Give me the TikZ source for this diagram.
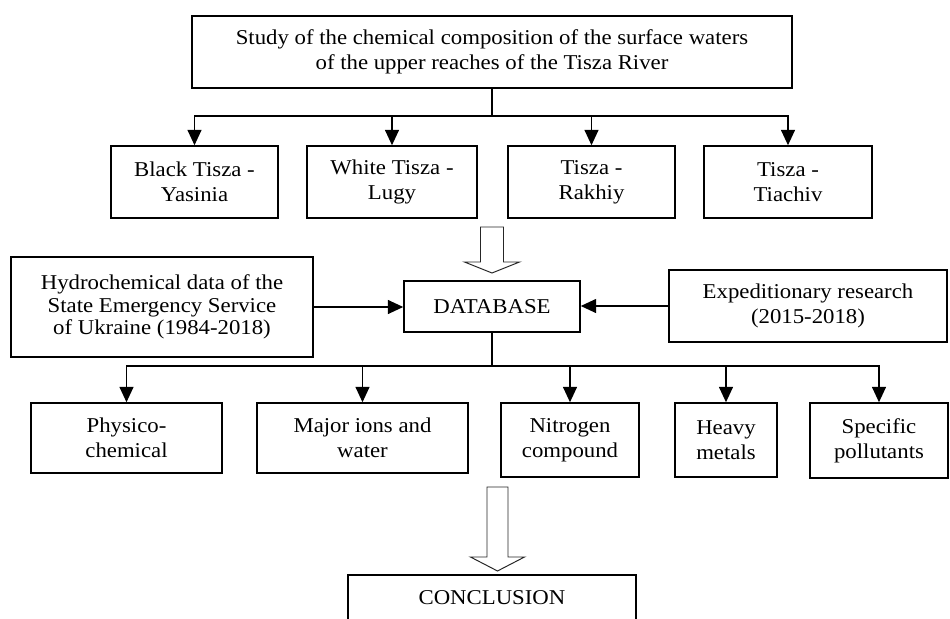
\documentclass[tikz,border=0pt]{standalone}
\usepackage{fontspec}
\setmainfont{Liberation Serif}[FakeStretch=1.08]
\usetikzlibrary{arrows.meta,calc}
\tikzset{blk/.style 2 args={draw, line width=1.1pt, align=center, inner sep=0pt, minimum width=#1*0.025cm, minimum height=#2*0.025cm, font=\fontsize{15}{17.8}\selectfont},
  arr/.style={line width=1pt, -{Triangle[length=11pt,width=10pt]}},
  lnk/.style={line width=1pt},
  hollow/.style={draw=black!85, line width=0.7pt, fill=white, line join=miter}}
\newcommand{\hollowarrow}[6]{\draw[hollow] (#1-#5,#2) -- (#1+#5,#2) -- (#1+#5,#3) -- (#1+#6,#3) -- (#1,#4) -- (#1-#6,#3) -- (#1-#5,#3) -- cycle;}

\begin{document}
\begin{tikzpicture}[x=0.025cm, y=-0.025cm]
  \clip (0,0) rectangle (950,619);
  \node[blk={600}{72}] (study) at (492,52) {Study of the chemical composition of the surface waters\\of the upper reaches of the Tisza River};
  \node[blk={167}{72}] (black) at (194.5,182) {Black Tisza -\\Yasinia};
  \node[blk={170}{72}] (white) at (392,182) {White Tisza -\\Lugy};
  \node[blk={167}{72}] (rakhiy) at (591.5,182) {Tisza -\\Rakhiy};
  \node[blk={168}{72}] (tiachiv) at (788,182) {Tisza -\\Tiachiv};
  \coordinate (split1) at (492,116);
  \draw[lnk] (study) -- (split1);
  \foreach \n in {black,white,rakhiy,tiachiv}
    \draw[arr] (split1) -| (\n);
  \hollowarrow{492}{227}{262}{273}{11.5}{27.5}
  \node[blk={302}{100}, font=\fontsize{15}{16}\selectfont] (hydro) at (162,307) {Hydrochemical data of the\\State Emergency Service\\of Ukraine (1984-2018)};
  \node[blk={176}{51}] (db) at (492,306.5) {DATABASE};
  \node[blk={278}{72}] (exped) at (808,306) {Expeditionary research\\(2015-2018)};
  \draw[arr] (hydro.east) -- (hydro.east -| db.west);
  \draw[arr] (exped.west) -- (exped.west -| db.east);
  \node[blk={191}{70}] (physico) at (126.5,438) {Physico-\\chemical};
  \node[blk={211}{70}] (ions) at (362.5,438) {Major ions and\\water};
  \node[blk={138}{74}] (nitrogen) at (570,440) {Nitrogen\\compound};
  \node[blk={102}{74}] (metals) at (726,440) {Heavy\\metals};
  \node[blk={138}{75}] (pollut) at (879,440.5) {Specific\\pollutants};
  \coordinate (split2) at (492,366);
  \draw[lnk] (db) -- (split2);
  \foreach \n in {physico,ions,nitrogen,metals,pollut}
    \draw[arr] (split2) -| (\n);
  \hollowarrow{497.5}{487}{557}{571}{10.5}{27}
  \node[blk={288}{46}] (concl) at (492,598) {CONCLUSION};
\end{tikzpicture}
\end{document}
